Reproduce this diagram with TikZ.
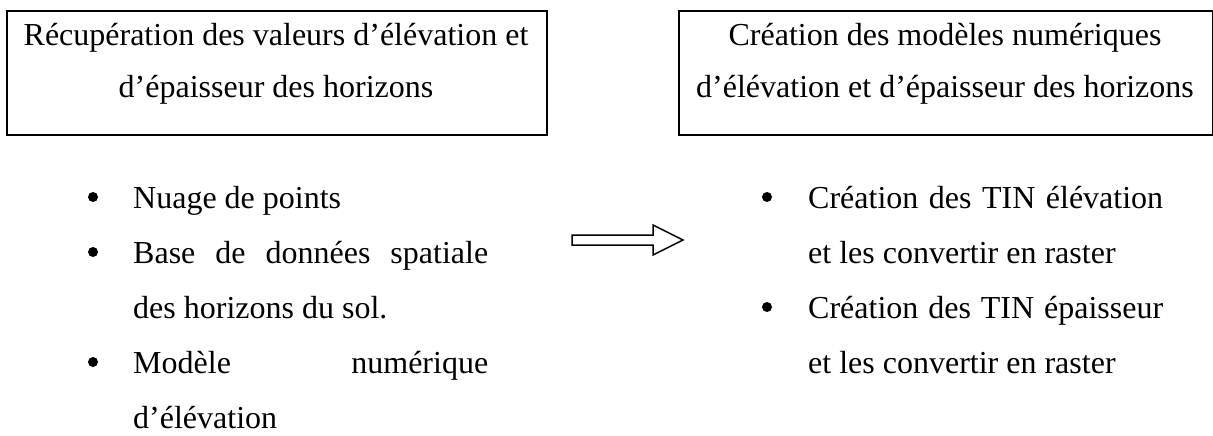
\documentclass[tikz,border=0pt]{standalone}
\usepackage{fontspec}
\setmainfont{Liberation Serif}
\begin{document}
\begin{tikzpicture}[x=1pt,y=-1pt,
  box/.style={draw=black,line width=2pt,rectangle,inner sep=0pt,anchor=north west},
  ttl/.style={anchor=base,inner sep=0pt,font=\fontsize{32}{38}\selectfont},
  itm/.style={anchor=base west,inner sep=0pt,font=\fontsize{32}{38}\selectfont},
  bul/.style={circle,fill=black,inner sep=0pt,minimum size=10pt},
  blockarrow/.style={draw=black,line width=1.5pt,fill=white,line join=miter}]
\useasboundingbox (0,0) rectangle (1213,436);
% boxes
\node[box,minimum width=540pt,minimum height=124pt] (b1) at (6,10) {};
\node[box,minimum width=534pt,minimum height=124pt] (b2) at (678,10) {};
% titles
\node[ttl] (t1a) at (276,46) {Récupération des valeurs d’élévation et};
\node[ttl] (t1b) at (276,98) {d’épaisseur des horizons};
\node[ttl] (t2a) at (945,46) {Création des modèles numériques};
\node[ttl] (t2b) at (945,98) {d’élévation et d’épaisseur des horizons};
% left list
\node[bul] (l1) at (93,197) {};
\node[itm] (la) at (133,208) {Nuage de points};
\node[bul] (l2) at (93,252) {};
\node[itm] (lb) at (133,263) {\hbox to 355pt{Base\hfill de\hfill données\hfill spatiale}};
\node[itm] (lc) at (133,318) {des horizons du sol.};
\node[bul] (l3) at (93,362) {};
\node[itm] (ld) at (133,373) {\hbox to 355pt{Modèle\hfill numérique}};
\node[itm] (le) at (133,428) {d’élévation};
% right list
\node[bul] (r1) at (767,197) {};
\node[itm] (ra) at (808,208) {\hbox to 355pt{Création\hfill des\hfill TIN\hfill élévation}};
\node[itm] (rb) at (808,263) {et les convertir en raster};
\node[bul] (r2) at (767,307) {};
\node[itm] (rc) at (808,318) {\hbox to 355pt{Création\hfill des\hfill TIN\hfill épaisseur}};
\node[itm] (rd) at (808,373) {et les convertir en raster};
% block arrow
\coordinate (a0) at (572,240);
\draw[blockarrow] (a0) ++(0,-5) -- ++(81,0) -- ++(0,-10) -- ++(30,15) -- ++(-30,15) -- ++(0,-10) -- ++(-81,0) -- cycle;
\end{tikzpicture}
\end{document}
